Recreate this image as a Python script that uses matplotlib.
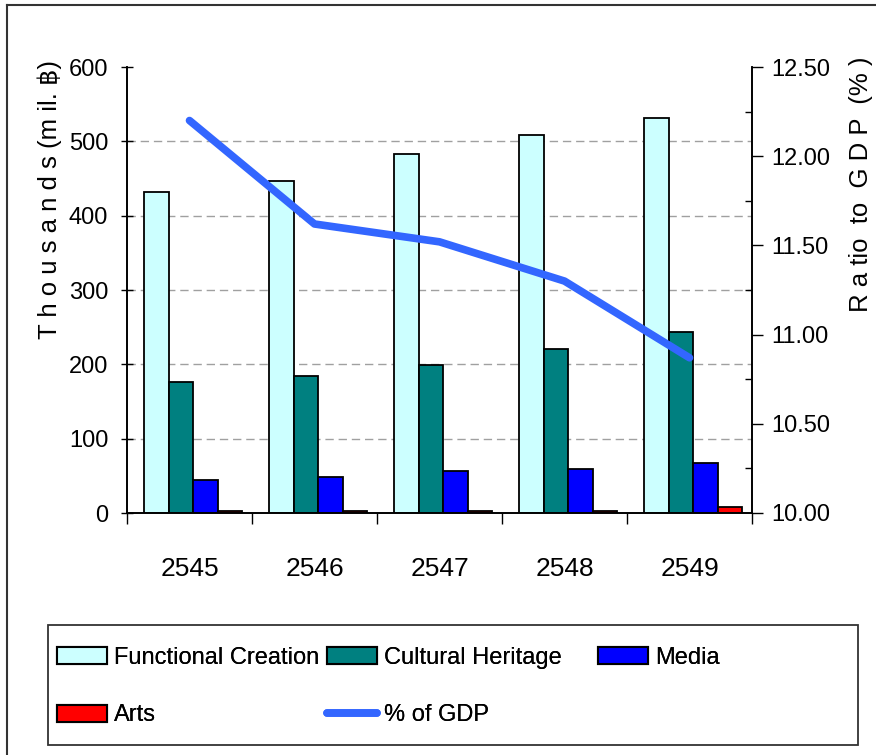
import matplotlib
matplotlib.use("Agg")
import matplotlib.pyplot as plt
from matplotlib.patches import Patch, Rectangle
from matplotlib.lines import Line2D
import numpy as np

years = ["2545", "2546", "2547", "2548", "2549"]
functional_creation = [432, 446, 483, 509, 531]
cultural_heritage = [176, 184, 199, 221, 244]
media = [44, 48, 56, 59, 67]
arts = [3, 3, 3, 3, 8]
pct_gdp = [12.20, 11.62, 11.52, 11.30, 10.87]

series_names = ["Functional Creation", "Cultural Heritage", "Media", "Arts"]
series_colors = ["#CCFFFF", "#008080", "#0000FF", "#FF0000"]
line_name = "% of GDP"
line_color = "#3366FF"

FONT = ["Liberation Sans", "DejaVu Sans"]
plt.rcParams["font.family"] = FONT

W, H = 876, 755
fig = plt.figure(figsize=(W / 100, H / 100), dpi=100)
ax = fig.add_axes([127 / W, 1 - 513 / H, (752 - 127) / W, (513 - 67) / H])
ax2 = ax.twinx()

x = np.arange(len(years))
bw = 0.196
all_series = [functional_creation, cultural_heritage, media, arts]
bar_handles = []
for i, (vals, col, name) in enumerate(zip(all_series, series_colors, series_names)):
    ax.bar(x + (i - 1.5) * bw + 0.03, vals, width=bw, color=col,
           edgecolor="black", linewidth=1.3, label=name, zorder=3)
    bar_handles.append(Patch(facecolor=col, edgecolor="black", lw=1.5))

ax.set_xlim(-0.5, len(years) - 0.5)
ax.set_ylim(0, 600)
ax.set_yticks(np.arange(0, 601, 100))
ax.set_yticklabels([str(v) for v in range(0, 601, 100)], fontsize=17)
ax.set_xticks(x)
ax.set_xticklabels(years, fontsize=19)
ax.tick_params(axis="x", which="major", length=0, pad=32)
ax.set_xticks(np.arange(-0.5, len(years), 1.0), minor=True)
ax.tick_params(axis="x", which="minor", length=8, direction="out", width=1)
ax.tick_params(axis="y", direction="inout", length=9, width=1, pad=9)
for v in range(100, 600, 100):
    ax.axhline(v, color="#a0a0a0", lw=1.0, ls=(0, (6, 3.5)), zorder=1)
ax.spines["top"].set_visible(False)
ax2.spines["top"].set_visible(False)
for s in ["left", "bottom", "right"]:
    ax.spines[s].set_linewidth(1.2)
    ax2.spines[s].set_linewidth(1.2)

ax2.set_ylim(10.0, 12.5)
ax2.set_yticks(np.arange(10.0, 12.51, 0.5))
ax2.set_yticklabels([f"{v:.2f}" for v in np.arange(10.0, 12.51, 0.5)], fontsize=17)
ax2.set_yticks(np.arange(10.25, 12.5, 0.5), minor=True)
ax2.tick_params(axis="y", which="major", direction="out", length=8, width=1, pad=6)
ax2.tick_params(axis="y", which="minor", direction="in", length=5, width=1)

ax2.plot(x, pct_gdp, color=line_color, lw=5.5, solid_capstyle="round",
         solid_joinstyle="round", zorder=5)

fig.text(50 / W, 1 - 60 / H, "T h o u s a n d s (m il. \u0E3F)", rotation=90,
         ha="center", va="top", fontsize=18.5, family=FONT)
fig.text(861 / W, 1 - 57 / H, "R a tio  to  G D P  (% )", rotation=90,
         ha="center", va="top", fontsize=18.5, family=FONT)

line_handle = Line2D([0], [0], color=line_color, lw=5.5, solid_capstyle="round")

# legend frame
fig.add_artist(Rectangle((48 / W, 1 - 745 / H), (858 - 48) / W, 120 / H,
                         transform=fig.transFigure, facecolor="white",
                         edgecolor="#333333", lw=1.3, zorder=0))
columns = [
    ([bar_handles[0], bar_handles[3]], [series_names[0], series_names[3]], 57),
    ([bar_handles[1], line_handle], [series_names[1], line_name], 327),
    ([bar_handles[2]], [series_names[2]], 598),
]
for hs, ls, cx in columns:
    lg = fig.legend(hs, ls, loc="upper left",
                    bbox_to_anchor=(cx / W, 1 - 647 / H),
                    fontsize=17, frameon=False, borderpad=0.0,
                    labelspacing=1.5, handlelength=2.1, handleheight=0.75,
                    handletextpad=0.3, borderaxespad=0)
    fig.add_artist(lg)

# outer chart border
fig.add_artist(Line2D([7 / W, 7 / W], [0, 1 - 5 / H], color="#333333", lw=1.5))
fig.add_artist(Line2D([7 / W, 1], [1 - 5 / H, 1 - 5 / H], color="#333333", lw=1.5))

fig.savefig("out.png", dpi=100)
